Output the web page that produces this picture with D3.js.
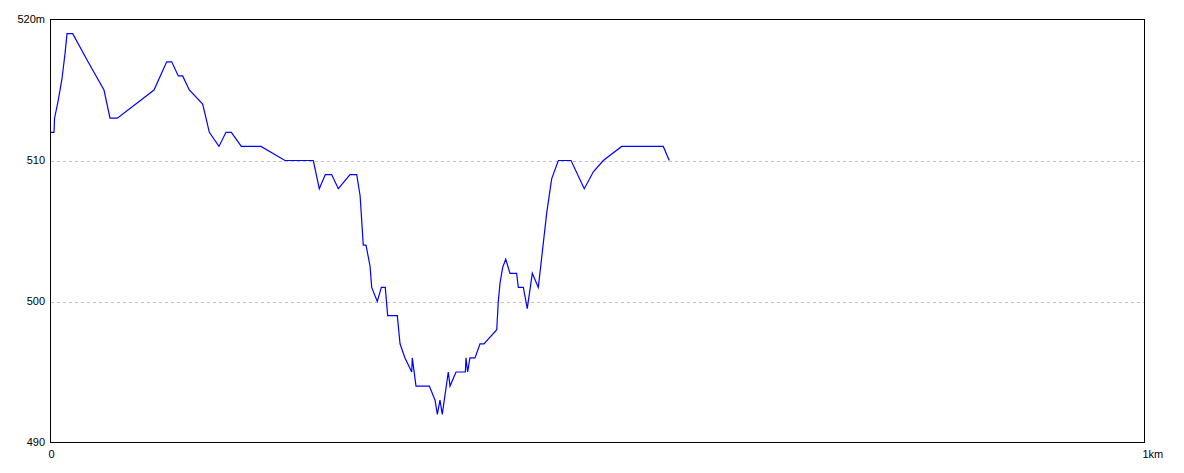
<!DOCTYPE html>
<html><head><meta charset="utf-8">
<script src="https://cdn.jsdelivr.net/npm/d3@7"></script>
<style>body{margin:0;background:#fff}svg{display:block}</style>
</head><body><svg id="c" width="1184" height="473"></svg>
<script>
const distKm = [0,0.0032,0.0037,0.0069,0.0105,0.0133,0.0151,0.0203,0.0343,0.0489,0.0544,0.0611,0.0946,0.1062,0.1108,0.1168,0.1208,0.1269,0.1391,0.1452,0.1540,0.1604,0.1653,0.1744,0.1924,0.2143,0.2402,0.2457,0.2512,0.2570,0.2631,0.2738,0.2799,0.2830,0.2859,0.2884,0.2921,0.2936,0.2987,0.3024,0.3060,0.3082,0.3170,0.3195,0.3240,0.3302,0.3307,0.3341,0.3463,0.3515,0.3536,0.3560,0.3581,0.3636,0.3652,0.3707,0.3792,0.3798,0.3813,0.3834,0.3880,0.3926,0.3962,0.4079,0.4093,0.4109,0.4133,0.4161,0.4200,0.4261,0.4276,0.4322,0.4358,0.4404,0.4459,0.4536,0.4581,0.4642,0.4758,0.4879,0.4962,0.5053,0.5221,0.5601,0.5656];
const elevation = [512,512,513,514.2,515.8,517.6,519,519,517,515,513,513,515,517,517,516,516,515,514,512,511,512,512,511,511,510,510,508,509,509,508,509,509,507.5,504,504,502.5,501,500,501,501,499,499,497,496,495,496,494,494,493,492,493,492,495,494,495,495,496,495,496,496,497,497,498,500,501.3,502.4,503,502,502,501,501,499.5,502,501,506.3,508.7,510,510,508,509.2,510,511,511,510];
const yTicks = [490,500,510,520];
const yTickLabels = ["490","500","510","520m"];
const xTicks = [0,1];
const xTickLabels = ["0","1km"];

const svg = d3.select("#c");
const x = d3.scaleLinear().domain([0,1]).range([50.5,1144.5]);
const y = d3.scaleLinear().domain([490,520]).range([442.5,19.5]);
const font = "'Liberation Sans', Arial, sans-serif";

// grid
svg.append("g").selectAll("line").data(yTicks.filter(v=>v>490&&v<520)).join("line")
  .attr("x1",x(0)).attr("x2",x(1)).attr("y1",d=>Math.round(y(d))+0.5).attr("y2",d=>Math.round(y(d))+0.5)
  .attr("stroke","#c0c0c0").attr("stroke-dasharray","3,3").attr("shape-rendering","crispEdges");

// line
const data = distKm.map((d,i)=>[d,elevation[i]]);
svg.append("path").datum(data)
  .attr("d", d3.line().x(d=>x(d[0])).y(d=>y(d[1])))
  .attr("fill","none").attr("stroke","#0000ff").attr("stroke-width",1.2);

// border
svg.append("rect").attr("x",50.5).attr("y",19.5).attr("width",1094).attr("height",423)
  .attr("fill","none").attr("stroke","#000").attr("stroke-width",1).attr("shape-rendering","crispEdges");

// y labels
svg.append("g").selectAll("text").data(yTicks).join("text")
  .attr("x",45).attr("y",d=>y(d)).attr("dy","0.36em").attr("text-anchor","end")
  .attr("font-family",font).attr("font-size",11).attr("fill","#000")
  .text((d,i)=>yTickLabels[i]);
// x labels
svg.append("g").selectAll("text").data(xTicks).join("text")
  .attr("x",d=>x(d)-2).attr("y",458).attr("text-anchor","start")
  .attr("font-family",font).attr("font-size",11).attr("fill","#000")
  .text((d,i)=>xTickLabels[i]);
</script></body></html>
